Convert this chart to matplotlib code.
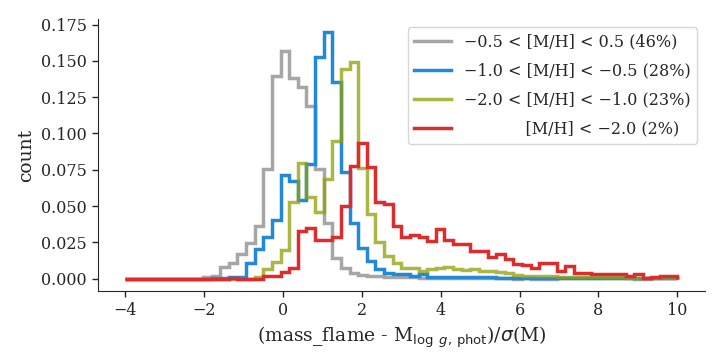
import numpy as np
import matplotlib
matplotlib.use("Agg")
import matplotlib.pyplot as plt

# histogramas normalizados, 64 bins entre -4 e 10
edges = np.linspace(-4, 10, 65)

gray_vals = [0, 0, 0, 0, 0, 0, 0, 0, 0, 0.001, 0.002, 0.0078, 0.0106, 0.017, 0.0245, 0.0365,
             0.0758, 0.1398, 0.157, 0.1385, 0.132, 0.119, 0.0753, 0.038, 0.0145, 0.007, 0.004, 0.0025,
             0.002, 0.0015, 0.0012, 0.001, 0.0008, 0.0008, 0.0006, 0.0006, 0.0005, 0.0004, 0.0004, 0.0003,
             0.0003, 0.0003, 0.0002, 0.0002, 0.0002, 0.0, 0.0002, 0.0, 0.0, 0.0, 0.0002, 0.0002,
             0.0001, 0.0001, 0.0001, 0.0001, 0.0001, 0.0001, 0.0001, 0.0, 0.0, 0.0001, 0.0001, 0.0001]

blue_vals = [0, 0, 0, 0, 0, 0, 0, 0, 0, 0, 0.0005, 0.0007, 0.001, 0.0014, 0.011, 0.0205,
             0.0288, 0.0404, 0.0714, 0.067, 0.054, 0.079, 0.1525, 0.170, 0.1357, 0.0737, 0.0385, 0.021,
             0.012, 0.0068, 0.0041, 0.0032, 0.0032, 0.0019, 0.003, 0.0014, 0.0012, 0.0012, 0.001, 0.001,
             0.0008, 0.0008, 0.0008, 0.0007, 0.0007, 0.0006, 0.0006, 0.0006, 0.0006, 0.0006, 0.0005, 0.0005,
             0.0005, 0.0005, 0.0005, 0.0005, 0.0005, 0.0005, 0.0005, 0.0005, 0.0005, 0.0005, 0.0005, 0.0005]

olive_vals = [0, 0, 0, 0, 0, 0, 0, 0, 0, 0, 0, 0, 0, 0, 0, 0.0014,
              0.0065, 0.0112, 0.0198, 0.0526, 0.0795, 0.0565, 0.0457, 0.0684, 0.095, 0.1442, 0.1494, 0.0762,
              0.0447, 0.0252, 0.0154, 0.0108, 0.007, 0.007, 0.005, 0.0067, 0.0076, 0.0083, 0.0067, 0.006,
              0.0067, 0.0054, 0.005, 0.0043, 0.0039, 0.0025, 0.0019, 0.0019, 0.0019, 0.0019, 0.001, 0.001,
              0.001, 0.001, 0.001, 0.0008, 0.0008, 0.0008, 0.0007, 0.0007, 0.0007, 0.0007, 0.0007, 0.0007]

red_vals = [0, 0, 0, 0, 0, 0, 0, 0, 0, 0, 0, 0, 0.0007, 0, 0, 0,
            0.0015, 0.0015, 0.0046, 0.0072, 0.033, 0.0347, 0.0267, 0.0267, 0.0287, 0.050, 0.0778, 0.0932,
            0.0769, 0.0526, 0.0511, 0.0363, 0.0285, 0.0301, 0.0288, 0.026, 0.0342, 0.0267, 0.0239, 0.0239,
            0.0191, 0.0188, 0.0151, 0.017, 0.0134, 0.0099, 0.0092, 0.0072, 0.011, 0.011, 0.0053, 0.0087,
            0.004, 0.004, 0.0032, 0.0032, 0.0032, 0.0032, 0.0016, 0.0033, 0.0004, 0.0011, 0.0019, 0.0019]

labels = ["\u22120.5 < [M/H] < 0.5 (46%)",
          "\u22121.0 < [M/H] < \u22120.5 (28%)",
          "\u22122.0 < [M/H] < \u22121.0 (23%)",
          "            [M/H] < \u22122.0 (2%)"]

plt.rcParams["font.family"] = "DejaVu Serif"
plt.rcParams["mathtext.fontset"] = "dejavusans"
plt.rcParams["text.color"] = "#262626"
plt.rcParams["axes.labelcolor"] = "#262626"
plt.rcParams["xtick.color"] = "#262626"
plt.rcParams["ytick.color"] = "#262626"

fig = plt.figure(figsize=(7.2, 3.6), dpi=100)
ax = fig.add_axes([0.1357, 0.1917, 0.8433, 0.7543])

lw = 2.5
ax.stairs(gray_vals, edges, color="#a6a6a6", lw=lw, label=labels[0])
ax.stairs(blue_vals, edges, color="#2288d8", lw=lw, label=labels[1])
ax.stairs(olive_vals, edges, color="#8e9f07", alpha=0.75, lw=lw, label=labels[2])
ax.stairs(red_vals, edges, color="#dd2c2c", lw=lw, label=labels[3])

ax.set_xlim(-4.7, 10.7)
ax.set_ylim(-0.0085, 0.1785)
ax.set_xticks([-4, -2, 0, 2, 4, 6, 8, 10])
ax.set_yticks([0, 0.025, 0.05, 0.075, 0.1, 0.125, 0.15, 0.175])
ax.yaxis.set_major_formatter(matplotlib.ticker.FormatStrFormatter("%.3f"))
ax.tick_params(labelsize=11.5, length=4.5, width=1)
for s in ["top", "right"]:
    ax.spines[s].set_visible(False)
for s in ["left", "bottom"]:
    ax.spines[s].set_color("#262626")

ax.set_xlabel(r"(mass_flame - M$_{\log\ g,\,\rm phot}$)/$\sigma$(M)", fontsize=13.5)
ax.set_ylabel("count", fontsize=13.5)

ax.legend(loc="upper right", fontsize=11.5, edgecolor="#cccccc", labelspacing=0.75,
          handlelength=2.3)

fig.savefig("out.png", dpi=100)
